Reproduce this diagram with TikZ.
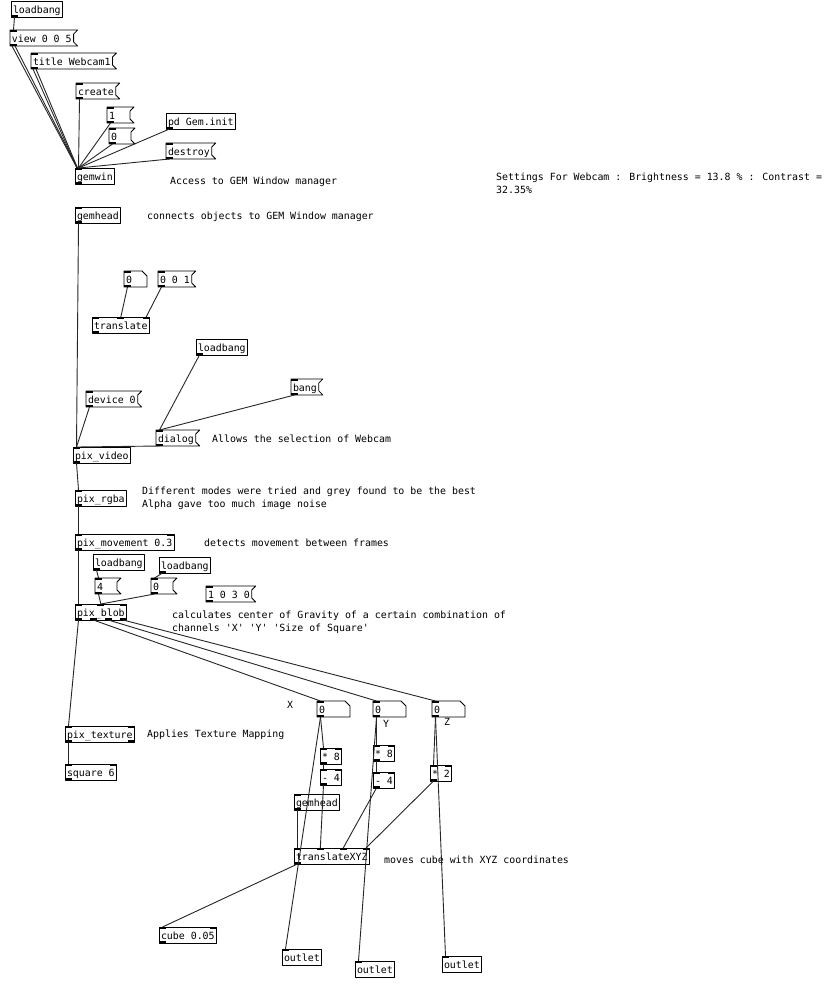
\documentclass[tikz,border=0pt]{standalone}
\usepackage{fontspec}
\newfontfamily\pdfont{DejaVu Sans Mono}
\usetikzlibrary{calc}

% box outlines for message and number boxes
\newcommand\msgframe[1]{\draw[pdline] (#1.north west) -- ([xshift=4pt]#1.north east) -- ([yshift=-4pt]#1.north east) -- ([yshift=4pt]#1.south east) -- ([xshift=4pt]#1.south east) -- (#1.south west) -- cycle;}
\newcommand\numframe[1]{\draw[pdline] (#1.north west) -- ([xshift=-5pt]#1.north east) -- ([yshift=-5pt]#1.north east) -- (#1.south east) -- (#1.south west) -- cycle;}
% inlet / outlet positions
\newcommand\pin[2]{($([xshift=3.5pt]#1.north west)!#2!([xshift=-3.5pt]#1.north east)$)}
\newcommand\pout[2]{($([xshift=3.5pt]#1.south west)!#2!([xshift=-3.5pt]#1.south east)$)}
\newcommand\ports[3]{%
  \ifnum#2=1 \fill (#1.north west) rectangle ++(7pt,-1.5pt);\fi
  \ifnum#2>1 \foreach \k in {1,...,#2}{\pgfmathsetmacro\f{(\k-1)/(#2-1)}%
    \fill ($(#1.north west)!\f!([xshift=-7pt]#1.north east)$) rectangle ++(7pt,-1.5pt);}\fi
  \ifnum#3=1 \fill (#1.south west) rectangle ++(7pt,2pt);\fi
  \ifnum#3>1 \foreach \k in {1,...,#3}{\pgfmathsetmacro\f{(\k-1)/(#3-1)}%
    \fill ($(#1.south west)!\f!([xshift=-7pt]#1.south east)$) rectangle ++(7pt,2pt);}\fi}

\begin{document}
\begin{tikzpicture}[x=1pt,y=-1pt,line join=round,
  font=\pdfont\fontsize{9.9}{13}\selectfont,
  pdline/.style={line width=0.8pt,black},
  pdwire/.style={line width=0.9pt,black!85},
  pdobj/.style={draw,pdline,anchor=north west,inner xsep=2pt,inner ysep=0pt,outer sep=0pt,
    minimum height=16pt,text height=9pt,text depth=1pt},
  pdmsg/.style={pdobj,draw=none},
  pdnum/.style={pdobj,draw=none,align=left},
  pdcmt/.style={anchor=base west,inner sep=0pt,align=left}]
  \fill[white] (0,0) rectangle (833,985);
  \useasboundingbox (0,0) rectangle (833,985);

  % window part
  \node[pdobj] (lbA) at (11,1) {loadbang};
  \node[pdmsg] (view) at (10,30) {view 0 0 5};
  \node[pdmsg] (title) at (31,53) {title Webcam1};
  \node[pdmsg] (create) at (76,83) {create};
  \node[pdmsg,text width=19pt,align=left] (one) at (107,107) {1};
  \node[pdmsg,text width=18pt,align=left] (zero) at (109,128) {0};
  \node[pdobj] (geminit) at (166,113) {pd Gem.init};
  \node[pdmsg] (destroy) at (166,143) {destroy};
  \node[pdobj] (gemwin) at (75,168) {gemwin};
  \node[pdcmt] (cAccess) at (170,184) {Access to GEM Window manager};
  % base of a two-line comment is its second line
  \node[pdcmt] (cSettings) at (496,193) {Settings For Webcam : Brightness = 13.8 \% : Contrast =\\32.35\%};

  % video chain
  \node[pdobj] (gemheadA) at (75,207) {gemhead};
  \node[pdcmt] (cConnects) at (147,219) {connects objects to GEM Window manager};
  \node[pdnum,text width=19pt] (numT) at (124,271) {0};
  \node[pdmsg] (msgT) at (158,271) {0 0 1};
  \node[pdobj] (translate) at (92,317) {translate};
  \node[pdobj] (lbB) at (196,339) {loadbang};
  \node[pdmsg] (bang) at (291,379) {bang};
  \node[pdmsg] (device) at (86,391) {device 0};
  \node[pdmsg] (dialog) at (156,430) {dialog};
  \node[pdcmt] (cAllows) at (212,442) {Allows the selection of Webcam};
  \node[pdobj] (pixvideo) at (73,447) {pix\_video};
  \node[pdobj] (pixrgba) at (75,490) {pix\_rgba};
  \node[pdcmt] (cModes) at (142,507) {Different modes were tried and grey found to be the best\\Alpha gave too much image noise};
  \node[pdobj] (pixmove) at (75,534) {pix\_movement 0.3};
  \node[pdcmt] (cDetects) at (204,546) {detects movement between frames};
  \node[pdobj] (lbC) at (93,554) {loadbang};
  \node[pdobj] (lbD) at (159,557) {loadbang};
  \node[pdmsg,text width=18pt,align=left] (four) at (95,578) {4};
  \node[pdmsg,text width=18pt,align=left] (zeroB) at (151,578) {0};
  \node[pdmsg] (msgC) at (206,586) {1 0 3 0};
  \node[pdobj] (pixblob) at (75,604) {pix\_blob};
  \node[pdcmt] (cBlob) at (172,631) {calculates center of Gravity of a certain combination of\\channels 'X' 'Y' 'Size of Square'};
  \node[pdobj] (pixtex) at (65,726) {pix\_texture};
  \node[pdcmt] (cTex) at (147,737) {Applies Texture Mapping};
  \node[pdobj] (square) at (65,764) {square 6};

  % XYZ part
  \node[pdnum,text width=29pt] (numX) at (317,701) {0};
  \node[pdnum,text width=29pt] (numY) at (373,701) {0};
  \node[pdnum,text width=29pt] (numZ) at (432,701) {0};
  \node[pdcmt] (lblX) at (287,708) {X};
  \node[pdcmt] (lblY) at (383,727) {Y};
  \node[pdcmt] (lblZ) at (444,725) {Z};
  \node[pdobj] (mulX) at (320,748) {* 8};
  \node[pdobj] (subX) at (320,769) {- 4};
  \node[pdobj] (mulY) at (373,745) {* 8};
  \node[pdobj] (subY) at (373,772) {- 4};
  \node[pdobj] (mulZ) at (430,765) {* 2};
  \node[pdobj] (gemheadB) at (294,794) {gemhead};
  \node[pdobj] (transXYZ) at (294,848) {translateXYZ};
  \node[pdcmt] (cMoves) at (384,863) {moves cube with XYZ coordinates};
  \node[pdobj] (cube) at (159,927) {cube 0.05};
  \node[pdobj] (outA) at (282,949) {outlet};
  \node[pdobj] (outB) at (355,961) {outlet};
  \node[pdobj] (outC) at (442,956) {outlet};

  \msgframe{view} \msgframe{title} \msgframe{create} \msgframe{one} \msgframe{zero}
  \msgframe{destroy} \msgframe{msgT} \msgframe{bang} \msgframe{device} \msgframe{dialog}
  \msgframe{four} \msgframe{zeroB} \msgframe{msgC}
  \numframe{numT} \numframe{numX} \numframe{numY} \numframe{numZ}

  \ports{lbA}{0}{1} \ports{view}{1}{1} \ports{title}{1}{1} \ports{create}{1}{1}
  \ports{one}{1}{1} \ports{zero}{1}{1} \ports{geminit}{0}{1} \ports{destroy}{1}{1}
  \ports{gemwin}{1}{1} \ports{gemheadA}{1}{1} \ports{numT}{1}{1} \ports{msgT}{1}{1}
  \ports{translate}{3}{1} \ports{lbB}{0}{1} \ports{bang}{1}{1} \ports{device}{1}{1}
  \ports{dialog}{1}{1} \ports{pixvideo}{1}{1} \ports{pixrgba}{1}{1} \ports{pixmove}{2}{1}
  \ports{lbC}{0}{1} \ports{lbD}{0}{1} \ports{four}{1}{1} \ports{zeroB}{1}{1}
  \ports{msgC}{1}{1} \ports{pixblob}{3}{4} \ports{pixtex}{2}{2} \ports{square}{2}{1}
  \ports{numX}{1}{1} \ports{numY}{1}{1} \ports{numZ}{1}{1}
  \ports{mulX}{2}{1} \ports{subX}{2}{1} \ports{mulY}{2}{1} \ports{subY}{2}{1} \ports{mulZ}{2}{1}
  \ports{gemheadB}{1}{1} \ports{transXYZ}{4}{1} \ports{cube}{2}{1}
  \ports{outA}{1}{0} \ports{outB}{1}{0} \ports{outC}{1}{0}

  % connections
  \draw[pdwire] \pout{lbA}{0} -- \pin{view}{0};
  \draw[pdwire] ([xshift=2pt]view.south west) -- ([xshift=2pt]gemwin.north west);
  \draw[pdwire] ([xshift=5pt]view.south west) -- ([xshift=2.5pt]gemwin.north west);
  \draw[pdwire] ([xshift=2pt]title.south west) -- ([xshift=2pt]gemwin.north west);
  \draw[pdwire] ([xshift=5pt]title.south west) -- ([xshift=2.5pt]gemwin.north west);
  \draw[pdwire] \pout{create}{0} -- \pin{gemwin}{0};
  \draw[pdwire] \pout{one}{0} -- \pin{gemwin}{0};
  \draw[pdwire] \pout{zero}{0} -- \pin{gemwin}{0};
  \draw[pdwire] \pout{geminit}{0} -- \pin{gemwin}{0};
  \draw[pdwire] \pout{destroy}{0} -- \pin{gemwin}{0};
  \draw[pdwire] \pout{gemheadA}{0} -- \pin{pixvideo}{0};
  \draw[pdwire] \pout{numT}{0} -- \pin{translate}{0.5};
  \draw[pdwire] \pout{msgT}{0} -- \pin{translate}{1};
  \draw[pdwire] \pout{lbB}{0} -- \pin{dialog}{0};
  \draw[pdwire] \pout{bang}{0} -- \pin{dialog}{0};
  \draw[pdwire] \pout{device}{0} -- \pin{pixvideo}{0};
  \draw[pdwire] \pout{dialog}{0} -- \pin{pixvideo}{0};
  \draw[pdwire] \pout{pixvideo}{0} -- \pin{pixrgba}{0};
  \draw[pdwire] \pout{pixrgba}{0} -- \pin{pixmove}{0};
  \draw[pdwire] \pout{pixmove}{0} -- \pin{pixblob}{0};
  \draw[pdwire] \pout{lbC}{0} -- \pin{four}{0};
  \draw[pdwire] \pout{lbD}{0} -- \pin{zeroB}{0};
  \draw[pdwire] \pout{four}{0} -- \pin{pixblob}{0.5};
  \draw[pdwire] \pout{zeroB}{0} -- \pin{pixblob}{0.5};
  \draw[pdwire] \pout{pixblob}{0} -- \pin{pixtex}{0};
  \draw[pdwire] \pout{pixblob}{0.333} -- \pin{numX}{0};
  \draw[pdwire] \pout{pixblob}{0.667} -- \pin{numY}{0};
  \draw[pdwire] \pout{pixblob}{1} -- \pin{numZ}{0};
  \draw[pdwire] \pout{pixtex}{0} -- \pin{square}{0};
  \draw[pdwire] \pout{numX}{0} -- \pin{mulX}{0};
  \draw[pdwire] \pout{numX}{0} -- \pin{outA}{0};
  \draw[pdwire] \pout{mulX}{0} -- \pin{subX}{0};
  \draw[pdwire] \pout{subX}{0} -- \pin{transXYZ}{0.333};
  \draw[pdwire] \pout{numY}{0} -- \pin{mulY}{0};
  \draw[pdwire] \pout{numY}{0} -- \pin{outB}{0};
  \draw[pdwire] \pout{mulY}{0} -- \pin{subY}{0};
  \draw[pdwire] \pout{subY}{0} -- \pin{transXYZ}{0.667};
  \draw[pdwire] \pout{numZ}{0} -- \pin{mulZ}{0};
  \draw[pdwire] \pout{numZ}{0} -- \pin{outC}{0};
  \draw[pdwire] \pout{mulZ}{0} -- \pin{transXYZ}{1};
  \draw[pdwire] \pout{gemheadB}{0} -- \pin{transXYZ}{0};
  \draw[pdwire] \pout{transXYZ}{0} -- \pin{cube}{0};
\end{tikzpicture}
\end{document}
